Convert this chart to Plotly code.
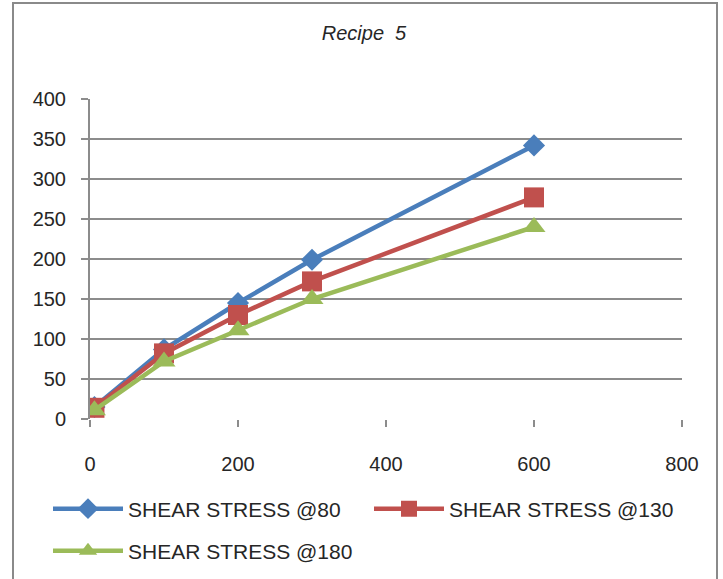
import plotly.graph_objects as go

# Shear stress readings per speed
speed = [6, 100, 200, 300, 600]
stress_80 = [15, 87, 145, 199, 342]
stress_130 = [14, 82, 130, 172, 277]
stress_180 = [11, 72, 111, 150, 240]
series_names = ["SHEAR STRESS @80", "SHEAR STRESS @130", "SHEAR STRESS @180"]
x_ticks = [0, 200, 400, 600, 800]
y_ticks = [0, 50, 100, 150, 200, 250, 300, 350, 400]

FONT = "Liberation Sans"
GRID = "#8c8c8c"

fig = go.Figure()
fig.add_trace(go.Scatter(
    x=speed, y=stress_80, name=series_names[0], mode="lines+markers",
    line=dict(color="#4A7EBB", width=4.5),
    marker=dict(symbol="diamond", size=17, color="#4A7EBB"),
    legend="legend",
))
fig.add_trace(go.Scatter(
    x=speed, y=stress_130, name=series_names[1], mode="lines+markers",
    line=dict(color="#C0504D", width=4.5),
    marker=dict(symbol="square", size=20, color="#C0504D"),
    legend="legend",
))
fig.add_trace(go.Scatter(
    x=speed, y=stress_180, name=series_names[2], mode="lines+markers",
    line=dict(color="#9BBB59", width=4.5),
    marker=dict(symbol="triangle-up", size=20, color="#9BBB59"),
    legend="legend2",
))

W, H = 723, 579
L, R, T, B = 90, 41, 99, 160
pw, ph = W - L - R, H - T - B

def px_x(p):
    return (p - L) / pw

def px_y(p):
    return (H - B - p) / ph

LEG_FONT = dict(family=FONT, size=21, color="#262626")

fig.update_layout(
    width=W, height=H,
    margin=dict(l=L, r=R, t=T, b=B, autoexpand=False),
    paper_bgcolor="white", plot_bgcolor="white",
    font=dict(family=FONT, color="#262626"),
    title=dict(text="<i>Recipe  5</i>", x=364 / W, xref="container", xanchor="center",
               y=1 - 33 / H, yref="container", yanchor="middle",
               font=dict(family=FONT, size=20, color="#262626")),
    xaxis=dict(range=[0, 800], tickvals=x_ticks, showgrid=False, zeroline=False,
               showline=False, ticks="outside", ticklen=7, tickwidth=2, tickcolor=GRID,
               ticklabelstandoff=20, automargin=False,
               tickfont=dict(family=FONT, size=20, color="#262626"), fixedrange=True),
    yaxis=dict(range=[0, 400], tickvals=y_ticks, showgrid=True, gridcolor=GRID, gridwidth=2,
               zeroline=False, showline=True, linecolor=GRID, linewidth=2,
               ticks="outside", ticklen=7, tickwidth=2, tickcolor=GRID,
               ticklabelstandoff=11, automargin=False,
               tickfont=dict(family=FONT, size=20, color="#262626"), fixedrange=True),
    legend=dict(orientation="h", x=px_x(48), xanchor="left", y=px_y(509), yanchor="middle",
                entrywidth=236, itemwidth=70, font=LEG_FONT,
                bgcolor="rgba(0,0,0,0)"),
    legend2=dict(orientation="h", x=px_x(48), xanchor="left", y=px_y(551), yanchor="middle",
                 itemwidth=70, font=LEG_FONT,
                 bgcolor="rgba(0,0,0,0)"),
    showlegend=True,
)

# chart frame
fig.add_shape(type="rect", xref="paper", yref="paper",
              x0=px_x(13), x1=px_x(717), y0=px_y(600), y1=px_y(3),
              line=dict(color="#8a8a8a", width=2), layer="below")

fig.write_html("out.html")
